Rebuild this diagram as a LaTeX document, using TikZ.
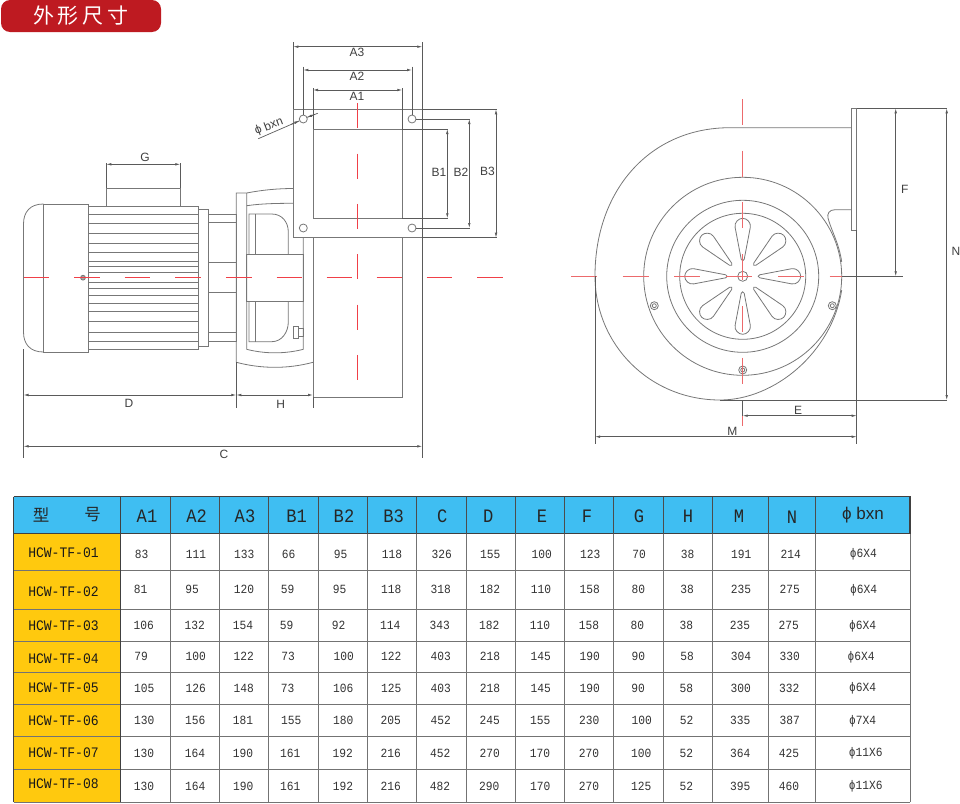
\documentclass[tikz,border=0pt]{standalone}
\usepackage{fontspec}
\setmainfont{Liberation Sans}
\newfontfamily\cjkfont{Noto Sans CJK SC}
\newfontfamily\tabfont[FakeStretch=0.9]{Liberation Mono}
\usetikzlibrary{arrows.meta}
\definecolor{partgray}{HTML}{777777}
\definecolor{dimgray}{HTML}{5A5A5A}
\definecolor{axisred}{HTML}{EC6A6C}
\definecolor{motorred}{HTML}{F04048}
\definecolor{tagred}{HTML}{BE1A21}
\definecolor{headblue}{HTML}{3FBEF2}
\definecolor{nameyellow}{HTML}{FFC90E}
\tikzset{
    part/.style={draw=partgray,line width=0.8pt},
    dimline/.style={dimgray,line width=0.7pt,<->,>={Latex[length=5pt,width=2.6pt]}},
    extline/.style={dimgray,line width=0.7pt},
    motoraxis/.style={draw=motorred,line width=1pt},
    fanaxis/.style={draw=axisred,line width=0.9pt,dash pattern=on 26pt off 25.7pt},
    dimlabel/.style={text=black!75,font=\fontsize{12}{12}\selectfont,inner sep=0pt},
    headcell/.style={text=black!85,font=\tabfont\fontsize{19}{19}\selectfont,inner sep=0pt},
    namecell/.style={text=black!90,font=\tabfont\fontsize{14.5}{14.5}\selectfont,inner sep=0pt},
    datacell/.style={text=black!80,font=\tabfont\fontsize{12.5}{12.5}\selectfont,inner sep=0pt},
    tablegrid/.style={black!55,line width=0.9pt},
    tableedge/.style={black!75,line width=1.1pt},
}
\newcommand{\datarow}[3]{%
    \foreach \cx/\cv [count=\ci] in {#3}{\node[datacell] (r#1c\ci) at (\cx,#2) {\cv};}}
\begin{document}
\begin{tikzpicture}[x=1pt,y=-1pt]
    \useasboundingbox (0,0) rectangle (960,803);
    \node[fill=tagred,rounded corners=9pt,minimum width=160pt,minimum height=32pt,inner sep=0pt,
          text=white,font=\cjkfont\fontsize{21}{21}\selectfont] (titleTag) at (81,16)
          {外\hspace{4pt}形\hspace{4pt}尺\hspace{4pt}寸};

    % motor
    \draw[part]
        (43.5,204) .. controls (30,204) and (23.5,212) .. (23.5,224)
        --(23.5,332) .. controls (23.5,344) and (30,352) .. (43.5,352);
    \draw[part] (43.5,204) rectangle (88.7,352);
    \draw[part] (88.7,206.3) rectangle (198,349);
    \foreach \fy in {214,223.3,233.3,243.3,252.3,261.7,266.7,272.3,282.3,288.3,295,303.3,311.7,321.7,332.3,341}
        \draw[part] (88.7,\fy)--(198,\fy);
    \draw[part] (106.3,206.3)--(106.3,188.3)--(180.3,188.3)--(180.3,206.3);
    \draw[part] (198,209) rectangle (208.3,346);
    \draw[part] (208.3,214) rectangle (236.3,341.7);
    \draw[part]
        (208.3,222.7)--(236.3,222.7) (208.3,262.7)--(236.3,262.7)
        (208.3,292.3)--(236.3,292.3) (208.3,332.7)--(236.3,332.7);
    \draw[part,fill=black!35] (83,277.7) circle (2.4pt);

    % housing seen from the side
    \draw[part]
        (236.3,362.3)--(236.3,193)--(246.7,193)
        .. controls (262,190) and (278,188.5) .. (293.3,188.5);
    \draw[part] (236.3,362.3) .. controls (262,369) and (288,369) .. (313,362.3);
    \draw[part] (246.7,193)--(246.7,349.3) .. controls (265,354) and (285,354) .. (303.3,349.3)--(303.3,237.7);
    \draw[part] (246.7,205.7) .. controls (262,203.5) and (278,203.3) .. (293.3,203.3);
    \draw[part] (246.7,254) rectangle (303.3,301);
    \draw[part]
        (249,254)--(249,214)--(271.7,214)
        .. controls (282,214) and (288.3,222) .. (288.3,232)--(288.3,254);
    \draw[part]
        (249,301)--(249,341.7)--(271.7,341.7)
        .. controls (282,341.7) and (288.3,332) .. (288.3,322)--(288.3,301);
    \draw[part] (255.7,214)--(255.7,254) (255.7,301)--(255.7,341.7);
    \draw[part] (293.3,326.7) rectangle (298,338.3);
    \draw[part] (298,328.5) rectangle (303.3,336.5);

    % outlet flange
    \draw[part] (293.3,109.3) rectangle (422.3,237.7);
    \draw[part] (313,129) rectangle (402.3,218.3);
    \draw[part] (313,237.7)--(313,397)--(402.3,397)--(402.3,237.7);
    \draw[part]
        (303.3,119) circle (4pt) (412,119) circle (4pt)
        (303.3,228) circle (4pt) (412,228) circle (4pt);

    \draw[extline]
        (23.5,349)--(23.5,458) (236.3,362)--(236.3,408) (313,397)--(313,408)
        (422.3,42)--(422.3,458) (293.3,42)--(293.3,109.3)
        (303.3,66.7)--(303.3,115) (412,66.7)--(412,115)
        (313,88)--(313,129) (402.3,88)--(402.3,129)
        (106.3,163)--(106.3,188.3) (180.3,163)--(180.3,188.3)
        (422.3,109.3)--(496.5,109.3) (402.3,129)--(447.8,129)
        (416,119)--(469.8,119) (402.3,218.3)--(447.8,218.3)
        (416,228)--(469.8,228) (422.3,237.7)--(496.5,237.7);
    \draw[dimline] (293.3,46.7)--(422.3,46.7);
    \draw[dimline] (303.3,70)--(412,70);
    \draw[dimline] (313,90)--(402.3,90);
    \draw[dimline] (447.3,129)--(447.3,218.3);
    \draw[dimline] (469.3,119)--(469.3,228);
    \draw[dimline] (496,109.3)--(496,237.7);
    \draw[dimline] (106.3,164.3)--(180.3,164.3);
    \draw[dimline] (23.5,395)--(236.3,395);
    \draw[dimline] (236.3,395)--(313,395);
    \draw[dimline] (23.5,446.3)--(422.3,446.3);
    \draw[extline] (258.3,138.7)--(299.5,120.8) (307,117.4)--(317.7,113.3);
    \draw[dimline,<-] (299.5,120.8)--(291,124.4);
    \draw[dimline,<-] (307,117.4)--(315,114.3);

    \node[dimlabel] (lblA3) at (357,52.7) {A3};
    \node[dimlabel] (lblA2) at (357,76) {A2};
    \node[dimlabel] (lblA1) at (357,96.3) {A1};
    \node[dimlabel] (lblB1) at (439,172) {B1};
    \node[dimlabel] (lblB2) at (461,172) {B2};
    \node[dimlabel] (lblB3) at (487.5,171.7) {B3};
    \node[dimlabel] (lblG) at (145,157.7) {G};
    \node[dimlabel] (lblD) at (129,403.3) {D};
    \node[dimlabel] (lblH) at (280.7,404) {H};
    \node[dimlabel] (lblC) at (224,454.7) {C};
    \node[dimlabel,rotate=21] (lblBxn) at (269,126.8) {ϕ bxn};

    % fan seen from the front
    \draw[part]
        (851.7,127.7)--(730,127.7)
        .. controls (650,127.7) and (595,190) .. (595,276)
        .. controls (595,345) and (650,400) .. (720,400)
        .. controls (775,400) and (832,352) .. (841.7,290);
    \draw[part] (851.7,108.3) rectangle (856.7,230);
    \draw[part]
        (851.7,209.7)--(835,209.7)
        .. controls (829,209.7) and (827,214) .. (828,218)
        .. controls (831,230) and (839,243) .. (841.7,262);
    \draw[part]
        (742.7,276.3) circle (99pt) (742.7,276.3) circle (76pt)
        (742.7,276.3) circle (63pt) (742.7,276.3) circle (5pt);
    \foreach \ang in {0,45,...,315}
        \draw[part,shift={(742.7,276.3)},rotate=\ang]
            (-1.5,-17)--(-7.6,-49)
            .. controls (-8.5,-54) and (-4,-58) .. (0,-58)
            .. controls (4,-58) and (8.5,-54) .. (7.6,-49)
            --(1.5,-17) .. controls (1.2,-15) and (-1.2,-15) .. (-1.5,-17)--cycle;
    \foreach \sx/\sy in {654.3/305.7,832.3/305.7,742.7/370}
        \draw[part] (\sx,\sy) circle (4pt) (\sx,\sy) circle (2pt);

    \draw[fanaxis] (571,276.3)--(842,276.3);
    \draw[fanaxis] (742.7,99)--(742.7,426);
    \foreach \ax in {23.5,74.1,124.7,175.3,225.9,276.5,326.7,376.7,426.7,477.3}
        \draw[motoraxis] (\ax,277.7)--++(25.6,0);
    \foreach \ay in {103.3,153.6,203.9,254.2,304.5,354.8}
        \draw[motoraxis] (357.3,\ay)--++(0,25);

    \draw[extline]
        (856.7,230)--(856.7,444) (595,276)--(595,444)
        (856.7,108.3)--(947.2,108.3) (720,400)--(947.2,400)
        (842,276.3)--(903.3,276.3) (742.7,400)--(742.7,416);
    \draw[dimline] (946.7,108.3)--(946.7,400);
    \draw[dimline] (895.7,108.3)--(895.7,276.3);
    \draw[dimline] (742.7,415.7)--(856.7,415.7);
    \draw[dimline] (595,436.7)--(856.7,436.7);

    \node[dimlabel] (lblF) at (904.7,189) {F};
    \node[dimlabel] (lblN) at (956,251.3) {N};
    \node[dimlabel] (lblE) at (798,410) {E};
    \node[dimlabel] (lblM) at (732.3,431.3) {M};

    % size table
    \fill[headblue] (13.7,496.7) rectangle (910,533.7);
    \fill[nameyellow] (13.7,533.7) rectangle (120.7,802.3);
    \foreach \gx in {170,219.3,268.3,318,367.3,416.7,466.3,515.7,564.3,613.7,663,712.3,768.7,815.7,910}
        \draw[tablegrid] (\gx,496.7)--(\gx,802.3);
    \foreach \gy in {570.3,609.3,641.3,672.3,704.3,736.7,769.3,802.3}
        \draw[tablegrid] (13.7,\gy)--(910,\gy);
    \draw[tableedge] (13.7,533.7)--(910,533.7) (13.7,496.7)--(910,496.7)--(910,533.7);
    \draw[tableedge] (13.7,496.7)--(13.7,802.3) (120.7,496.7)--(120.7,802.3);
    \foreach \gx in {170,219.3,268.3,318,367.3,416.7,466.3,515.7,564.3,613.7,663,712.3,768.7,815.7}
        \draw[black!70,line width=0.9pt] (\gx,496.7)--(\gx,533.7);

    \node[headcell,font=\cjkfont\fontsize{16.5}{16.5}\selectfont] (headType) at (41,515) {型};
    \node[headcell,font=\cjkfont\fontsize{16.5}{16.5}\selectfont] (headNo) at (92.7,515) {号};
    \foreach \hx/\hy/\hv [count=\hi] in {147/516/A1,196.7/516/A2,245/516/A3,296.7/516/B1,344/516/B2,393.7/516/B3,
            442.3/516/C,488.3/516/D,542/516/E,587/516/F,639/516/G,688/516/H,739/516/M,792/517.3/N}
        \node[headcell] (head\hi) at (\hx,\hy) {\hv};
    \node[headcell,font=\fontsize{17}{17}\selectfont] (headBxn) at (863,515.3) {ϕ bxn};

    \foreach \ni/\ny in {1/552.3,2/591.7,3/626,4/658.7,5/688,6/720.7,7/752.7,8/784}
        \node[namecell] (name\ni) at (63.5,\ny) {HCW-TF-0\ni};

    \datarow{1}{554}{141.7/83,196/111,244.3/133,288.7/66,340.7/95,392/118,441.7/326,490.3/155,541.7/100,590.3/123,639/70,687.7/38,741.3/191,790.7/214}
    \datarow{2}{589.3}{140.7/81,192/95,244/120,287.7/59,339.7/95,391.3/118,440.7/318,490/182,541/110,589.7/158,638.3/80,687/38,741/235,789.7/275}
    \datarow{3}{625.3}{143.7/106,194.7/132,243/154,286.7/59,338.7/92,390.3/114,439.7/343,489.3/182,540/110,589/158,637.3/80,686.3/38,740/235,788.7/275}
    \datarow{4}{656}{141/79,195.7/100,243.7/122,288/73,343.7/100,391.3/122,440.7/403,490/218,540.7/145,589.7/190,638.3/90,687/58,741/304,789.7/330}
    \datarow{5}{688.7}{144.3/105,195.7/126,243.7/148,287.7/73,343.3/106,391.3/125,440.7/403,490/218,540.7/145,589.7/190,638/90,686.3/58,740.7/300,789.3/332}
    \datarow{6}{720.3}{144.3/130,195.3/156,243/181,291.3/155,343.3/180,390.7/205,440.7/452,489.7/245,540.3/155,589.3/230,641.7/100,686.7/52,740.3/335,789.7/387}
    \datarow{7}{753}{144/130,195/164,243/190,290.3/161,342.7/192,390.7/216,440.3/452,489.7/270,540/170,589/270,641.3/100,686.3/52,740.3/364,789/425}
    \datarow{8}{786.7}{144/130,195.3/164,243.3/190,290.3/161,343/192,390.7/216,440/482,489.3/290,540.3/170,589/270,641.3/125,686.3/52,740.3/395,789/460}

    \node[datacell] (bore1) at (863.3,554) {ϕ6X4};
    \node[datacell] (bore2) at (863.7,590.7) {ϕ6X4};
    \node[datacell] (bore3) at (862.7,626.7) {ϕ6X4};
    \node[datacell] (bore4) at (861,657.3) {ϕ6X4};
    \node[datacell] (bore5) at (862.7,688.7) {ϕ6X4};
    \node[datacell] (bore6) at (862.7,721.7) {ϕ7X4};
    \node[datacell] (bore7) at (865.7,753) {ϕ11X6};
    \node[datacell] (bore8) at (865.7,786.3) {ϕ11X6};
\end{tikzpicture}
\end{document}
